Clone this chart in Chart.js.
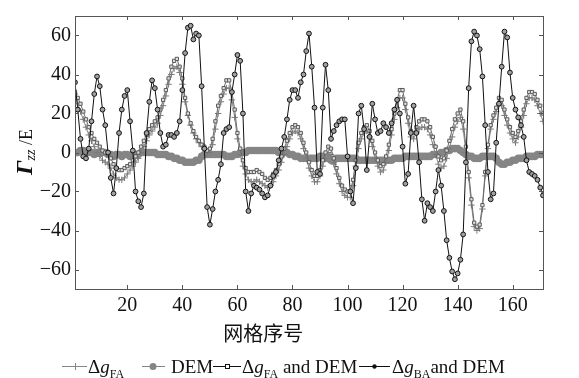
<!DOCTYPE html>
<html>
<head>
<meta charset="utf-8">
<script src="https://cdn.jsdelivr.net/npm/chart.js@4.4.0/dist/chart.umd.min.js"></script>
<style>
  html, body { margin: 0; padding: 0; background: #fff; }
  #wrap { width: 579px; height: 378px; position: relative; }
</style>
</head>
<body>
<div id="wrap"><canvas id="chart"></canvas></div>
<script>
// ===============================
// DATA
// ===============================

const xTicks = [20, 40, 60, 80, 100, 120, 140, 160];
const yTicks = [-60, -40, -20, 0, 20, 40, 60];

// Δg_FA
const faValues = [
  30, 25, 21, 17, 13, 9, 6, 3, 0, -2,
  -4, -5, -6, -8, -11, -13, -14, -14, -13, -11,
  -9, -7, -5, -3, 0, 3, 6, 9, 11, 13,
  15, 19, 24, 29, 35, 40, 43, 44, 41, 35,
  26, 19, 14, 10, 7, 5, 3, 2, 0, 0,
  4, 12, 20, 26, 30, 33, 33, 27, 18, 7,
  -1, -7, -11, -14, -15, -15, -14, -15, -16, -17,
  -18, -17, -15, -12, -9, -5, -1, 3, 7, 10,
  11, 10, 7, 2, -3, -8, -12, -15, -15, -12,
  -7, -3, 0, -1, -6, -11, -16, -20, -22, -23,
  -23, -17, -7, 2, 7, 10, 11, 8, 3, -3,
  -7, -10, -9, -5, 1, 9, 17, 23, 28, 28,
  22, 15, 8, 7, 10, 12, 13, 13, 12, 9,
  4, -1, -6, -8, -7, -3, 2, 8, 13, 16,
  18, 12, 0, -13, -27, -38, -40, -39, -29, -12,
  2, 12, 17, 21, 25, 24, 19, 14, 10, 7,
  5, 8, 13, 19, 25, 28, 28, 27, 24, 20,
  16
];

// DEM
const demValues = [
  0, 0, 1, 1, 0, 0, 0, -1, 0, 0,
  0, 0, -1, -1, -2, -1, -1, -2, -1, -1,
  -2, -1, -1, -1, 0, 0, 0, 0, 0, 0,
  -1, -1, -1, -1, -2, -2, -3, -3, -4, -4,
  -5, -5, -5, -5, -4, -4, -2, -1, -1, -1,
  -1, -1, -1, -1, -1, -2, -2, -2, -1, -1,
  0, 0, 0, 1, 1, 1, 1, 1, 1, 1,
  1, 1, 1, 1, 0, 0, 0, 0, -1, -1,
  -2, -2, -3, -3, -3, -3, -3, -3, -3, -2,
  -2, -3, -3, -4, -4, -3, -3, -3, -3, -3,
  -3, -3, -3, -4, -4, -4, -4, -4, -4, -4,
  -4, -4, -4, -4, -4, -4, -3, -3, -3, -3,
  -2, -2, -2, -2, -2, -2, -2, -2, -2, -2,
  -1, -1, -1, 0, 0, 1, 1, 2, 2, 2,
  1, 0, -1, -2, -2, -3, -3, -3, -2, -2,
  -2, -2, -2, -3, -5, -6, -6, -5, -5, -4,
  -4, -3, -3, -3, -2, -2, -2, -2, -1, -1,
  -1
];

// Δg_FA and DEM
const faDemValues = [
  31, 28, 25, 21, 17, 13, 10, 7, 5, 3,
  1, 0, -1, -3, -6, -8, -9, -9, -8, -7,
  -6, -4, -2, 0, 3, 6, 9, 12, 14, 16,
  18, 22, 27, 32, 38, 44, 47, 48, 44, 38,
  28, 20, 15, 11, 8, 6, 4, 3, 1, 2,
  7, 16, 24, 29, 33, 37, 37, 31, 22, 10,
  2, -4, -8, -10, -10, -10, -9, -10, -11, -13,
  -14, -13, -11, -9, -6, -2, 2, 6, 10, 13,
  14, 13, 10, 5, 0, -5, -9, -12, -12, -9,
  -4, 0, 3, 2, -3, -8, -13, -17, -19, -20,
  -20, -14, -4, 5, 10, 13, 14, 11, 6, 0,
  -4, -7, -6, -2, 4, 12, 20, 27, 32, 32,
  25, 18, 11, 10, 13, 16, 17, 17, 16, 13,
  8, 3, -2, -4, -3, 1, 6, 12, 17, 20,
  22, 16, 3, -10, -24, -36, -38, -37, -27, -10,
  4, 14, 19, 23, 28, 27, 22, 17, 13, 10,
  8, 11, 16, 22, 28, 31, 31, 30, 27, 24,
  20
];

// Δg_BA and DEM
const baDemValues = [
  36, 22, 7, -2, -3, 2, 16, 30, 39, 34,
  22, 14, 0, -13, -21, -8, 10, 22, 29, 32,
  16, 1, -20, -25, -28, -21, 10, 26, 37, 33,
  22, 10, 3, 4, 9, 9, 8, 10, 16, 32,
  51, 64, 65, 58, 61, 60, 34, 2, -28, -37,
  -29, -20, -14, -6, 10, 12, 13, 31, 40, 50,
  47, 20, -20, -30, -21, -17, -18, -19, -21, -23,
  -22, -17, -12, -10, -4, 2, 8, 17, 27, 32,
  32, 28, 36, 40, 52, 61, 44, 23, -10, -11,
  23, 45, 32, 7, 11, 14, 16, 17, 17, -2,
  -20, -26, -8, 20, 24, 12, -9, 8, 25, 17,
  10, 11, 15, 13, 10, 15, 22, 27, 20, 3,
  -16, -11, 10, 24, 10, -5, -24, -35, -26, -28,
  -30, -20, -9, -17, -30, -45, -54, -61, -65, -62,
  -55, -42, -5, 33, 57, 62, 60, 53, 39, 14,
  -10, -24, -21, 5, 25, 44, 62, 59, 41, 28,
  22, 18, 14, 8, -4, -10, -11, -12, -14, -18,
  -22
];

// grid index 1..n
const gridIndex = faValues.map((_, i) => i + 1);

// ===============================
// STYLE
// ===============================

const GREY = "#858585";
const DARK = "#111";
const SERIF = '"Liberation Serif", "Times New Roman", serif';

function toPoints(values) {
  return gridIndex.map((x, i) => ({ x: x, y: values[i] }));
}

function minusSign(v) {
  return v < 0 ? "\u2212" + Math.abs(v) : String(v);
}

// ===============================
// DECORATION PLUGIN (frame, inner ticks, titles, legend)
// ===============================

function drawDeltaLabel(ctx, x, y, sub, tail) {
  ctx.font = "19px " + SERIF;
  ctx.fillText("\u0394", x, y);
  x += ctx.measureText("\u0394").width;
  ctx.font = "italic 19px " + SERIF;
  ctx.fillText("g", x, y);
  x += ctx.measureText("g").width;
  ctx.font = "12px " + SERIF;
  ctx.fillText(sub, x, y + 5);
  x += ctx.measureText(sub).width;
  if (tail) {
    ctx.font = "19px " + SERIF;
    ctx.fillText(tail, x, y);
  }
}

function legendLine(ctx, x1, x2, y, color) {
  ctx.strokeStyle = color;
  ctx.lineWidth = 1;
  ctx.beginPath();
  ctx.moveTo(x1, y + 0.5);
  ctx.lineTo(x2, y + 0.5);
  ctx.stroke();
}

const decorations = {
  id: "decorations",
  afterDraw(chart) {
    const ctx = chart.ctx;
    const a = chart.chartArea;
    const xs = chart.scales.x;
    const ys = chart.scales.y;

    ctx.save();

    // frame
    ctx.strokeStyle = "#555";
    ctx.lineWidth = 1;
    ctx.strokeRect(Math.round(a.left) + 0.5, Math.round(a.top) + 0.5,
      Math.round(a.right - a.left), Math.round(a.bottom - a.top));

    // inward ticks
    const tl = 4;
    ctx.beginPath();
    xTicks.forEach(v => {
      const px = Math.round(xs.getPixelForValue(v)) + 0.5;
      ctx.moveTo(px, a.bottom); ctx.lineTo(px, a.bottom - tl);
      ctx.moveTo(px, a.top); ctx.lineTo(px, a.top + tl);
    });
    yTicks.forEach(v => {
      const py = Math.round(ys.getPixelForValue(v)) + 0.5;
      ctx.moveTo(a.left, py); ctx.lineTo(a.left + tl, py);
      ctx.moveTo(a.right, py); ctx.lineTo(a.right - tl, py);
    });
    ctx.stroke();

    ctx.fillStyle = DARK;

    // x title
    ctx.font = '20px "Noto Sans CJK SC", sans-serif';
    ctx.textAlign = "center";
    ctx.textBaseline = "middle";
    ctx.fillText("网格序号", a.left + (a.right - a.left) * 0.402, 333);

    // y title:  Γzz /E  (rotated)
    ctx.textAlign = "left";
    ctx.textBaseline = "alphabetic";
    ctx.translate(32, 152);
    ctx.rotate(-Math.PI / 2);
    const parts = [
      { t: "\u0393", f: "italic bold 24px " + SERIF, dy: 0 },
      { t: "zz", f: "italic 14px " + SERIF, dy: 3 },
      { t: " /E", f: "18px " + SERIF, dy: 0 }
    ];
    let total = 0;
    parts.forEach(p => { ctx.font = p.f; p.w = ctx.measureText(p.t).width; total += p.w; });
    let cx = -total / 2;
    parts.forEach(p => { ctx.font = p.f; ctx.fillText(p.t, cx, p.dy); cx += p.w; });
    ctx.setTransform(1, 0, 0, 1, 0, 0);

    // legend
    const ly = 366;
    const by = 373;
    ctx.textAlign = "left";
    ctx.textBaseline = "alphabetic";

    // Δg_FA
    legendLine(ctx, 62, 87, ly, GREY);
    ctx.strokeStyle = GREY;
    ctx.beginPath();
    ctx.moveTo(75.5, ly - 3); ctx.lineTo(75.5, ly + 4);
    ctx.moveTo(72, ly + 0.5); ctx.lineTo(79, ly + 0.5);
    ctx.stroke();
    ctx.fillStyle = DARK;
    drawDeltaLabel(ctx, 88, by, "FA", "");

    // DEM
    legendLine(ctx, 142, 165, ly, GREY);
    ctx.fillStyle = GREY;
    ctx.beginPath();
    ctx.arc(153, ly + 0.5, 3.5, 0, Math.PI * 2);
    ctx.fill();
    ctx.fillStyle = DARK;
    ctx.font = "19px " + SERIF;
    ctx.fillText("DEM", 171, by);

    // Δg_FA and DEM
    legendLine(ctx, 213, 241, ly, DARK);
    ctx.fillStyle = "#fff";
    ctx.strokeStyle = DARK;
    ctx.fillRect(225, ly - 2, 5, 5);
    ctx.strokeRect(225.5, ly - 1.5, 4, 4);
    ctx.fillStyle = DARK;
    drawDeltaLabel(ctx, 242, by, "FA", " and DEM");

    // Δg_BA and DEM
    legendLine(ctx, 359, 390, ly, DARK);
    ctx.fillStyle = DARK;
    ctx.beginPath();
    ctx.arc(374.5, ly + 0.5, 2.2, 0, Math.PI * 2);
    ctx.fill();
    drawDeltaLabel(ctx, 392, by, "BA", "and DEM");

    ctx.restore();
  }
};

// ===============================
// CHART
// ===============================

function createChart() {
  new Chart(document.getElementById("chart"), {
    type: "line",
    data: {
      datasets: [
        {
          label: "Δg_BA and DEM",
          data: toPoints(baDemValues),
          borderColor: DARK,
          borderWidth: 1,
          pointStyle: "circle",
          pointRadius: 2.4,
          pointBorderWidth: 1,
          pointBorderColor: DARK,
          pointBackgroundColor: "#a0a0a0",
          tension: 0,
          order: 0
        },
        {
          label: "Δg_FA and DEM",
          data: toPoints(faDemValues),
          borderColor: "#6a6a6a",
          borderWidth: 1,
          pointStyle: "rect",
          pointRadius: 2.3,
          pointBorderWidth: 1,
          pointBorderColor: "#5a5a5a",
          pointBackgroundColor: "#e0e0e0",
          tension: 0,
          order: 1
        },
        {
          label: "Δg_FA",
          data: toPoints(faValues),
          borderColor: "#8a8a8a",
          borderWidth: 1,
          pointStyle: "cross",
          pointRadius: 3.2,
          pointBorderWidth: 1,
          pointBorderColor: "#7a7a7a",
          tension: 0,
          order: 2
        },
        {
          label: "DEM",
          data: toPoints(demValues),
          borderColor: GREY,
          borderWidth: 1,
          pointStyle: "circle",
          pointRadius: 3.8,
          pointBorderWidth: 0,
          pointBackgroundColor: GREY,
          tension: 0,
          order: 3
        }
      ]
    },
    options: {
      responsive: true,
      maintainAspectRatio: false,
      animation: false,
      devicePixelRatio: 1,
      layout: { padding: { left: 0, right: 36, top: 11, bottom: 0 } },
      plugins: {
        legend: { display: false },
        tooltip: { enabled: false }
      },
      scales: {
        x: {
          type: "linear",
          min: 1,
          max: 171,
          afterBuildTicks: s => { s.ticks = xTicks.map(v => ({ value: v })); },
          afterFit: s => { s.height = 89; },
          grid: { display: false, drawTicks: false },
          border: { display: false },
          ticks: {
            color: DARK,
            padding: 5,
            maxRotation: 0,
            autoSkip: false,
            font: { family: SERIF, size: 20 }
          }
        },
        y: {
          type: "linear",
          min: -70,
          max: 70,
          afterBuildTicks: s => { s.ticks = yTicks.map(v => ({ value: v })); },
          afterFit: s => { s.width = 75; },
          grid: { display: false, drawTicks: false },
          border: { display: false },
          ticks: {
            color: DARK,
            padding: 4,
            font: { family: SERIF, size: 20 },
            callback: v => minusSign(v)
          }
        }
      }
    },
    plugins: [decorations]
  });
}

document.addEventListener("DOMContentLoaded", () => {
  createChart();
});
</script>
</body>
</html>
